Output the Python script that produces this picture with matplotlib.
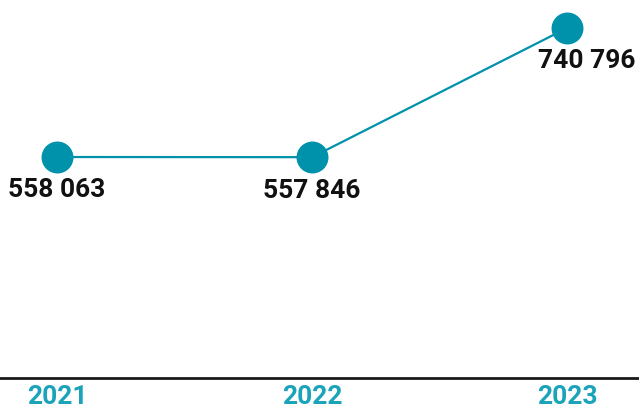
import matplotlib.pyplot as plt

years = ["2021", "2022", "2023"]
values = [558063, 557846, 740796]
labels = ["558 063", "557 846", "740 796"]

teal = "#0092ab"
tick_teal = "#1aa3b9"

fig = plt.figure(figsize=(6.39, 4.08), dpi=100)
ax = fig.add_axes([0, 30 / 408, 1, 378 / 408])

x = list(range(len(years)))
ax.plot(x, values, color=teal, lw=1.6, marker="o", markersize=23,
        markerfacecolor=teal, markeredgewidth=0, clip_on=False, zorder=3)

# value labels under each point, last one nudged right to stay in frame
nudges = [0, 0, 14]
for xi, v, lab, dx in zip(x, values, labels, nudges):
    ax.annotate(lab, (xi, v), xytext=(dx, -24), textcoords="offset points",
                ha="center", va="center", fontsize=19, fontweight="bold",
                family="Roboto", color="#111111")

ax.set_xlim(-0.224, 2.282)
ax.set_ylim(245000, 780500)
ax.set_xticks(x)
ax.set_xticklabels(years)
for t in ax.get_xticklabels():
    t.set_color(tick_teal)
    t.set_fontweight("bold")
    t.set_family("Roboto")
    t.set_fontsize(19)
ax.tick_params(axis="x", length=0, pad=5)
ax.set_yticks([])
for s in ["top", "left", "right"]:
    ax.spines[s].set_visible(False)
ax.spines["bottom"].set_linewidth(2)
ax.spines["bottom"].set_color("#1a1a1a")

fig.savefig("out.png", dpi=100)
